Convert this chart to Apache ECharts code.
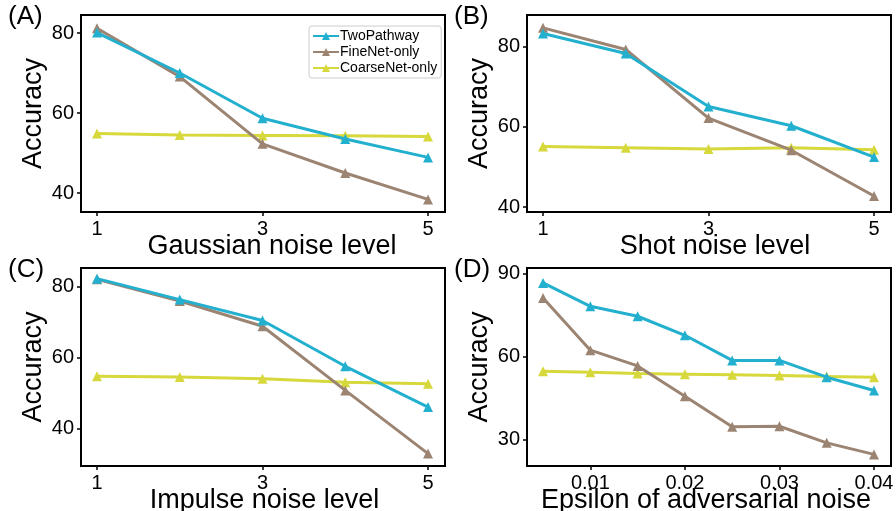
<!DOCTYPE html>
<html>
<head>
<meta charset="utf-8">
<script src="https://cdn.jsdelivr.net/npm/echarts@6/dist/echarts.min.js"></script>
<style>
  html, body { margin: 0; padding: 0; background: #fff; }
  #main { width: 896px; height: 511px; }
</style>
</head>
<body>
<div id="main"></div>
<script>
// noise levels for panels A-C
var levels = [1, 2, 3, 4, 5];
// epsilon values for panel D
var epsilons = [0.005, 0.01, 0.015, 0.02, 0.025, 0.03, 0.035, 0.04];

var seriesNames = ['TwoPathway', 'FineNet-only', 'CoarseNet-only'];

// (A) Gaussian noise
var gaussTwo    = [80.1, 70.0, 58.7, 53.5, 48.9];
var gaussFine   = [81.2, 69.1, 52.3, 45.0, 38.4];
var gaussCoarse = [54.9, 54.5, 54.4, 54.3, 54.1];

// (B) Shot noise
var shotTwo    = [83.3, 78.3, 65.1, 60.3, 52.5];
var shotFine   = [84.7, 79.3, 62.2, 54.2, 42.8];
var shotCoarse = [55.1, 54.8, 54.5, 54.8, 54.3];

// (C) Impulse noise
var impTwo    = [82.2, 76.3, 70.4, 57.5, 46.0];
var impFine   = [82.0, 75.9, 68.8, 50.7, 32.9];
var impCoarse = [54.7, 54.5, 54.0, 53.0, 52.6];

// (D) adversarial noise
var advTwo    = [86.7, 78.2, 74.6, 67.7, 58.6, 58.6, 52.5, 47.7];
var advFine   = [81.2, 62.3, 56.6, 45.6, 34.5, 34.7, 28.7, 24.5];
var advCoarse = [54.7, 54.3, 53.8, 53.6, 53.4, 53.1, 52.8, 52.5];

// tick labels
var levelTicks = [1, 3, 5];
var epsTicks = [0.01, 0.02, 0.03, 0.04];
var accTicksABC = [40, 60, 80];
var accTicksD = [30, 60, 90];

var colors = ['#23b0cf', '#9c8473', '#d6d83c'];
var FONT = 'Liberation Sans';

/* global echarts: true */
var myChart = echarts.init(document.getElementById('main'));

var panels = [
  { tag: '(A)', xs: levels, ys: [gaussTwo, gaussFine, gaussCoarse], xname: 'Gaussian noise level',
    grid: { left: 81, top: 15, width: 364, height: 197 }, xmin: 0.807, xmax: 5.205, ymin: 35.25, ymax: 84.5,
    xt: levelTicks, yt: accTicksABC, namePad: [0, 0, 0, 18] },
  { tag: '(B)', xs: levels, ys: [shotTwo, shotFine, shotCoarse], xname: 'Shot noise level',
    grid: { left: 527, top: 15, width: 364, height: 197 }, xmin: 0.807, xmax: 5.205, ymin: 38.8, ymax: 87.9,
    xt: levelTicks, yt: accTicksABC, namePad: [0, 0, 0, 12] },
  { tag: '(C)', xs: levels, ys: [impTwo, impFine, impCoarse], xname: 'Impulse noise level',
    grid: { left: 81, top: 268, width: 364, height: 198 }, xmin: 0.807, xmax: 5.205, ymin: 29.4, ymax: 85.2,
    xt: levelTicks, yt: accTicksABC, namePad: [0, 0, 0, 3] },
  { tag: '(D)', xs: epsilons, ys: [advTwo, advFine, advCoarse], xname: 'Epsilon of adversarial noise',
    grid: { left: 527, top: 268, width: 364, height: 198 }, xmin: 0.0033, xmax: 0.0418, ymin: 20.3, ymax: 92.1,
    xt: epsTicks, yt: accTicksD, namePad: [0, 6, 0, 0] }
];

var grids = [], xAxes = [], yAxes = [], series = [], graphics = [];

panels.forEach(function(p, i) {
  grids.push(Object.assign({
    show: true, borderColor: '#000', borderWidth: 2, backgroundColor: '#fff',
    outerBoundsMode: 'none', containLabel: false
  }, p.grid));
  xAxes.push({
    type: 'value', gridIndex: i, min: p.xmin, max: p.xmax,
    splitLine: { show: false },
    axisLine: { show: false },
    axisTick: { show: true, length: 4, lineStyle: { color: '#000', width: 1.5 }, customValues: p.xt },
    axisLabel: { show: true, margin: 7, color: '#000', fontSize: 20, fontFamily: FONT, customValues: p.xt },
    name: p.xname, nameLocation: 'middle', nameGap: 21, nameMoveOverlap: false,
    nameTextStyle: { color: '#000', fontSize: 27, fontFamily: FONT, padding: p.namePad }
  });
  yAxes.push({
    type: 'value', gridIndex: i, min: p.ymin, max: p.ymax,
    splitLine: { show: false },
    axisLine: { show: false },
    axisTick: { show: true, length: 4, lineStyle: { color: '#000', width: 1.5 }, customValues: p.yt },
    axisLabel: { show: true, margin: 7, color: '#000', fontSize: 20, fontFamily: FONT, customValues: p.yt },
    name: 'Accuracy', nameLocation: 'middle', nameGap: 34, nameMoveOverlap: false,
    nameTextStyle: { color: '#000', fontSize: 27, fontFamily: FONT, padding: [0, 0, 0, 0] }
  });
  p.ys.forEach(function(vals, k) {
    series.push({
      name: seriesNames[k], type: 'line', xAxisIndex: i, yAxisIndex: i,
      data: p.xs.map(function(x, j) { return [x, vals[j]]; }),
      symbol: 'triangle', symbolSize: 10,
      lineStyle: { width: 3, color: colors[k] },
      itemStyle: { color: colors[k] },
      z: 3 - k
    });
  });
  graphics.push({
    type: 'text', left: p.grid.left - 73, top: p.grid.top - 11,
    style: { text: p.tag, font: '26px "Liberation Sans"', fill: '#000' }
  });
});

var option = {
  animation: false,
  color: colors,
  grid: grids,
  xAxis: xAxes,
  yAxis: yAxes,
  series: series,
  graphic: graphics,
  legend: {
    data: seriesNames,
    orient: 'vertical',
    left: 309, top: 26,
    itemWidth: 26, itemHeight: 10, itemGap: 2,
    backgroundColor: '#fff',
    borderColor: '#ccc', borderWidth: 1, borderRadius: 3,
    padding: [3, 4, 3, 3],
    textStyle: { color: '#000', fontSize: 14, fontFamily: FONT, padding: [0, 0, 0, -4] }
  }
};

myChart.setOption(option);
</script>
</body>
</html>
